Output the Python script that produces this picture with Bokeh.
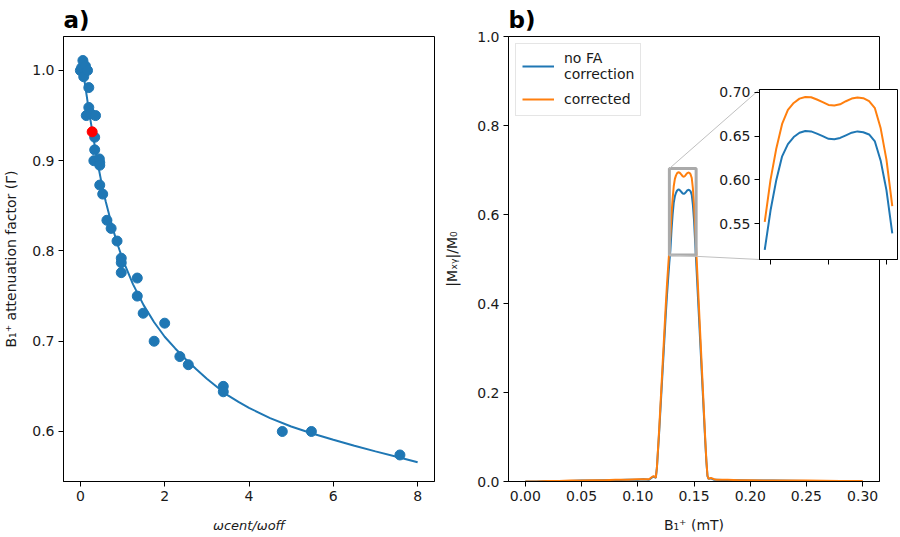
from bokeh.plotting import figure
from bokeh.layouts import row
from bokeh.models import (FixedTicker, PrintfTickFormatter, Legend,
                          LegendItem, Range1d)
from bokeh.embed import file_html
from bokeh.resources import INLINE

# ---------------- panel a data ----------------
ratio = [0.00, 0.03, 0.06, 0.08, 0.12, 0.17, 0.20, 0.20, 0.14, 0.25, 0.36,
         0.34, 0.34, 0.32, 0.46, 0.45, 0.46, 0.46, 0.53, 0.63, 0.73, 0.87,
         0.97, 0.97, 0.97, 1.35, 1.35, 1.49, 2.00, 1.75, 2.36, 2.56, 3.39,
         3.39, 4.79, 5.48, 7.58]
atten = [1.000, 1.003, 1.011, 0.993, 1.005, 1.000, 0.981, 0.959, 0.950, 0.952,
         0.950, 0.926, 0.912, 0.900, 0.898, 0.902, 0.895, 0.873, 0.863, 0.834,
         0.825, 0.811, 0.792, 0.787, 0.776, 0.770, 0.750, 0.731, 0.720, 0.700,
         0.683, 0.674, 0.650, 0.644, 0.600, 0.600, 0.574]
red_ratio = [0.28]
red_atten = [0.932]
fit_ratio = [0.05, 0.10, 0.15, 0.20, 0.30, 0.40, 0.50, 0.60, 0.70, 0.80, 0.90,
             1.00, 1.25, 1.50, 1.75, 2.00, 2.25, 2.50, 2.75, 3.00, 3.25, 3.50,
             3.75, 4.00, 4.50, 5.00, 5.50, 6.00, 6.50, 7.00, 7.50, 8.00]
fit_atten = [1.003, 0.988, 0.972, 0.956, 0.928, 0.900, 0.876, 0.855, 0.837,
             0.820, 0.805, 0.791, 0.763, 0.740, 0.721, 0.705, 0.692, 0.680,
             0.669, 0.6585, 0.649, 0.640, 0.6328, 0.6262, 0.6148, 0.6055, 0.5978,
             0.5908, 0.5843, 0.5780, 0.5720, 0.5660]
a_xticks = [0, 2, 4, 6, 8]
a_yticks = [0.6, 0.7, 0.8, 0.9, 1.0]

# ---------------- panel b data ----------------
b1 = [0.000, 0.010, 0.020, 0.030, 0.040, 0.050, 0.060, 0.070, 0.080, 0.090,
      0.100, 0.105, 0.110, 0.112, 0.114, 0.115,
      0.116, 0.117, 0.118, 0.119, 0.120, 0.121, 0.122, 0.123, 0.124, 0.125,
      0.126, 0.127, 0.128, 0.129, 0.130, 0.131, 0.132, 0.133, 0.134, 0.135,
      0.136, 0.137, 0.138, 0.139, 0.140, 0.141, 0.142, 0.143, 0.144, 0.145,
      0.146, 0.147, 0.148, 0.149, 0.150, 0.151, 0.152, 0.153, 0.154, 0.155,
      0.156, 0.157, 0.158, 0.159, 0.160, 0.161, 0.162, 0.163,
      0.165, 0.168, 0.170, 0.180, 0.190, 0.200, 0.220, 0.250, 0.280, 0.300]
mxy_nofa = [0.000, 0.000, 0.001, 0.001, 0.001, 0.002, 0.002, 0.003, 0.003, 0.004,
            0.004, 0.005, 0.004, 0.008, 0.011, 0.010,
            0.008, 0.030, 0.070, 0.110, 0.155, 0.200, 0.245, 0.290, 0.335, 0.380,
            0.420, 0.456, 0.490, 0.520, 0.565, 0.600, 0.627, 0.641, 0.649, 0.654,
            0.656, 0.6555, 0.653, 0.650, 0.647, 0.6465, 0.648, 0.651, 0.654, 0.6555,
            0.6545, 0.652, 0.644, 0.622, 0.588, 0.539, 0.490, 0.440, 0.390, 0.340,
            0.290, 0.240, 0.190, 0.140, 0.090, 0.045, 0.012, 0.006,
            0.007, 0.004, 0.004, 0.003, 0.003, 0.002, 0.002, 0.001, 0.001, 0.000]
mxy_corr = [0.000, 0.000, 0.001, 0.001, 0.002, 0.002, 0.003, 0.003, 0.004, 0.004,
            0.005, 0.005, 0.005, 0.009, 0.012, 0.011,
            0.008, 0.031, 0.073, 0.116, 0.164, 0.211, 0.259, 0.306, 0.354, 0.401,
            0.444, 0.482, 0.518, 0.552, 0.600, 0.636, 0.664, 0.680, 0.688, 0.693,
            0.6948, 0.6945, 0.692, 0.689, 0.6857, 0.685, 0.6865, 0.690, 0.693, 0.6942,
            0.6935, 0.690, 0.682, 0.659, 0.623, 0.570, 0.518, 0.466, 0.413, 0.360,
            0.307, 0.254, 0.201, 0.148, 0.095, 0.047, 0.013, 0.006,
            0.008, 0.005, 0.004, 0.004, 0.003, 0.003, 0.002, 0.002, 0.001, 0.001]
b_xticks = [0.0, 0.05, 0.10, 0.15, 0.20, 0.25, 0.30]
b_yticks = [0.0, 0.2, 0.4, 0.6, 0.8, 1.0]
inset_xticks = [0.13, 0.14, 0.15]
inset_yticks = [0.55, 0.60, 0.65, 0.70]
inset_xrange = (0.1281, 0.1519)
inset_yrange = (0.509, 0.7034)
inset_span = (0.129, 0.151)

# ---------------- style / layout ----------------
FONT = "DejaVu Sans"
TXT = "#1a1a1a"
BLUE = "#1f77b4"
ORANGE = "#ff7f0e"
TICK_FS = "14px"

H = 537
TOP, BOTTOM = 36, 56
A_LEFT, A_RIGHT, A_W = 63, 6, 440
B_LEFT, B_RIGHT, B_W = 68, 5, 444
IN_LEFT, IN_RIGHT, IN_TOP, IN_BOTTOM = 43, 1, 89, 30   # IN_TOP: page y of inset frame
IN_FW, IN_FH = 138, 170
IN_X0 = 716          # page x of inset figure
A_XR = (-0.4, 8.4)
A_YR = (0.5446, 1.0376)
B_XR = (-0.015, 0.315)
B_YR = (0.0, 1.0)


def style(p, xfmt, yfmt):
    p.grid.visible = False
    p.outline_line_color = "black"
    p.outline_line_width = 1
    p.outline_line_alpha = 1
    for ax in (p.xaxis[0], p.yaxis[0]):
        ax.major_tick_out = 5
        ax.major_tick_in = 0
        ax.minor_tick_out = 0
        ax.minor_tick_in = 0
        ax.axis_line_color = "black"
        ax.major_tick_line_color = "black"
        ax.major_label_text_font = FONT
        ax.major_label_text_font_size = TICK_FS
        ax.major_label_text_color = TXT
        ax.major_label_standoff = 4
        ax.axis_label_text_font = FONT
        ax.axis_label_text_font_size = "14px"
        ax.axis_label_text_font_style = "normal"
        ax.axis_label_text_color = TXT
    p.xaxis[0].formatter = PrintfTickFormatter(format=xfmt)
    p.yaxis[0].formatter = PrintfTickFormatter(format=yfmt)


def panel_title(p, text):
    p.title.text = text
    p.title.text_font = FONT
    p.title.text_font_size = "23px"
    p.title.text_font_style = "bold"
    p.title.text_color = "black"
    p.title.align = "left"
    p.title.standoff = 8
    p.title.offset = 0


# ---------------- panel a ----------------
pa = figure(width=A_W, height=H, output_backend="svg", toolbar_location=None,
            x_range=Range1d(*A_XR), y_range=Range1d(*A_YR),
            min_border_left=A_LEFT, min_border_right=A_RIGHT,
            min_border_top=TOP, min_border_bottom=BOTTOM)
style(pa, "%d", "%.1f")
panel_title(pa, "a)")
pa.xaxis[0].ticker = FixedTicker(ticks=a_xticks)
pa.yaxis[0].ticker = FixedTicker(ticks=a_yticks)
pa.xaxis[0].axis_label = "ωcent/ωoff"
pa.xaxis[0].axis_label_text_font_style = "italic"
pa.xaxis[0].axis_label_text_font_size = "13px"
pa.xaxis[0].axis_label_standoff = 14
pa.yaxis[0].axis_label = "B₁⁺ attenuation factor (Γ)"
pa.yaxis[0].axis_label_standoff = 10
pa.line(fit_ratio, fit_atten, line_color=BLUE, line_width=2)
pa.scatter(ratio, atten, size=10, fill_color=BLUE, line_color=BLUE)
pa.scatter(red_ratio, red_atten, size=10, fill_color="#ff0000", line_color="#ff0000")

# ---------------- panel b ----------------
pb = figure(width=B_W, height=H, output_backend="svg", toolbar_location=None,
            x_range=Range1d(*B_XR), y_range=Range1d(*B_YR),
            min_border_left=B_LEFT, min_border_right=B_RIGHT,
            min_border_top=TOP, min_border_bottom=BOTTOM)
style(pb, "%.2f", "%.1f")
panel_title(pb, "b)")
pb.xaxis[0].ticker = FixedTicker(ticks=b_xticks)
pb.yaxis[0].ticker = FixedTicker(ticks=b_yticks)
pb.xaxis[0].axis_label = "B₁⁺ (mT)"
pb.xaxis[0].axis_label_standoff = 13
pb.yaxis[0].axis_label = "|Mₓᵧ|/M₀"
pb.yaxis[0].axis_label_standoff = 14
r1 = pb.line(b1, mxy_nofa, line_color=BLUE, line_width=2)
r2 = pb.line(b1, mxy_corr, line_color=ORANGE, line_width=2)

# zoom rectangle + connectors to the inset's left corners
pb.quad(left=[inset_xrange[0]], right=[inset_xrange[1]],
        bottom=[inset_yrange[0]], top=[inset_yrange[1]],
        fill_color=None, line_color="#aaaaaa", line_width=3)
B_FW = B_W - B_LEFT - B_RIGHT
B_FH = H - TOP - BOTTOM
dx = (IN_X0 + IN_LEFT) - (A_W + B_LEFT)
dy_top = IN_TOP - TOP
dy_bot = dy_top + IN_FH
cx = B_XR[0] + dx / B_FW * (B_XR[1] - B_XR[0])
cy_top = B_YR[1] - dy_top / B_FH * (B_YR[1] - B_YR[0])
cy_bot = B_YR[1] - dy_bot / B_FH * (B_YR[1] - B_YR[0])
pb.segment(x0=[inset_xrange[0], inset_xrange[0]], y0=[inset_yrange[1], inset_yrange[0]],
           x1=[cx, cx], y1=[cy_top, cy_bot], line_color="#c0c0c0", line_width=1)

legend = Legend(items=[LegendItem(label="no FA\ncorrection", renderers=[r1]),
                       LegendItem(label="corrected", renderers=[r2])],
                location="top_left")
legend.margin = 7
legend.padding = 6
legend.spacing = 7
legend.glyph_width = 32
legend.label_standoff = 10
legend.label_text_font = FONT
legend.label_text_font_size = "14px"
legend.label_text_color = TXT
legend.border_line_color = "#cccccc"
legend.border_line_width = 1
legend.background_fill_alpha = 0.8
pb.add_layout(legend)

# ---------------- inset (separate root, pulled up over panel b) ----------------
ins = figure(width=IN_LEFT + IN_FW + IN_RIGHT, height=IN_TOP + IN_FH + IN_BOTTOM,
             title=None, output_backend="svg", toolbar_location=None,
             x_range=Range1d(*inset_xrange), y_range=Range1d(*inset_yrange),
             min_border_left=IN_LEFT, min_border_right=IN_RIGHT,
             min_border_top=IN_TOP, min_border_bottom=IN_BOTTOM)
style(ins, "%.2f", "%.2f")
ins.border_fill_color = None
ins.background_fill_color = "white"
ins.xaxis[0].ticker = FixedTicker(ticks=inset_xticks)
ins.yaxis[0].ticker = FixedTicker(ticks=inset_yticks)
ins.xaxis[0].major_label_text_color = None
sel = [i for i, x in enumerate(b1) if inset_span[0] <= x <= inset_span[1]]
ins.line([b1[i] for i in sel], [mxy_nofa[i] for i in sel], line_color=BLUE, line_width=2)
ins.line([b1[i] for i in sel], [mxy_corr[i] for i in sel], line_color=ORANGE, line_width=2)
ins.margin = (-H, 0, 0, IN_X0)

root = row(pa, pb)

open("out.html", "w").write(file_html([root, ins], INLINE))
